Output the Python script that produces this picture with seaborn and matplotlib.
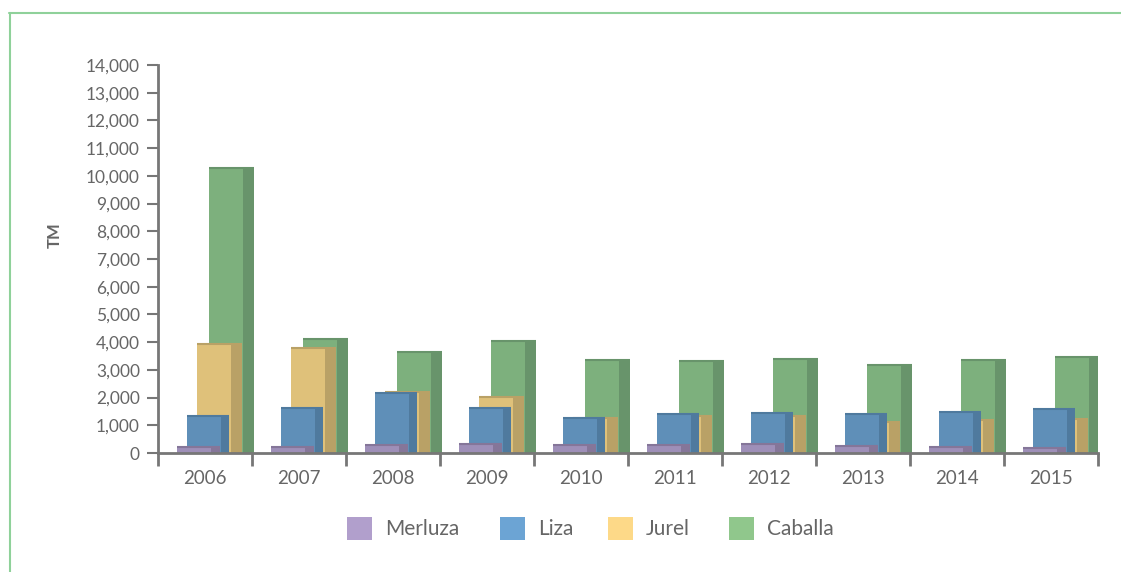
import matplotlib
matplotlib.use("Agg")
import matplotlib.pyplot as plt
from matplotlib.patches import Rectangle
import seaborn as sns
import numpy as np

years = ["2006", "2007", "2008", "2009", "2010", "2011", "2012", "2013", "2014", "2015"]
merluza = [200, 200, 280, 310, 280, 280, 310, 240, 200, 170]
liza = [1330, 1610, 2160, 1610, 1270, 1400, 1430, 1400, 1470, 1580]
jurel = [3925, 3780, 2190, 2010, 1250, 1330, 1330, 1110, 1180, 1220]
caballa = [10280, 4110, 3640, 4030, 3350, 3310, 3380, 3170, 3350, 3460]
series_names = ["Merluza", "Liza", "Jurel", "Caballa"]
yticks = list(range(0, 14001, 1000))

sns.set_theme(style="white")
plt.rcParams['font.family'] = ['Lato', 'DejaVu Sans']

W, H = 1121, 572
fig = plt.figure(figsize=(W / 100, H / 100), dpi=100)
x0, x1, y0, y1 = 158, 1098, 453, 65
ax = fig.add_axes([x0 / W, 1 - y0 / H, (x1 - x0) / W, (y0 - y1) / H])

values = {"Merluza": merluza, "Liza": liza, "Jurel": jurel, "Caballa": caballa}
front_col = {"Merluza": "#9e8fb8", "Liza": "#5f8fb8", "Jurel": "#dfc17a", "Caballa": "#7db07d"}
side_col = {"Merluza": "#857699", "Liza": "#4f7a9e", "Jurel": "#b9a166", "Caballa": "#68946b"}
legend_col = {"Merluza": "#b19fcc", "Liza": "#6ca4d4", "Jurel": "#fdd988", "Caballa": "#90c78c"}
left_off = {"Merluza": 0.202, "Liza": 0.309, "Jurel": 0.415, "Caballa": 0.543}
side_w = {"Merluza": 0.096, "Liza": 0.085, "Jurel": 0.117, "Caballa": 0.117}
front_w = 0.362

idx = np.arange(len(years))
for k, name in enumerate(["Caballa", "Jurel", "Liza", "Merluza"]):
    z = 2 + k
    v = np.array(values[name])
    lefts = idx - 0.5 + left_off[name]
    ax.bar(lefts, v, width=front_w, align="edge", color=front_col[name], linewidth=0, zorder=z)
    ax.bar(lefts + front_w, v, width=side_w[name], align="edge", color=side_col[name],
           linewidth=0, zorder=z)
    for l, val in zip(lefts, v):
        ax.plot([l, l + front_w + side_w[name]], [val, val], color=side_col[name], lw=1.5,
                solid_capstyle="butt", zorder=z + 0.5)

ax.set_xlim(-0.5, len(years) - 0.5)
ax.set_ylim(0, 14000)
ax.set_yticks(yticks)
ax.set_yticklabels([f"{t:,}" for t in yticks])
ax.set_xticks(idx)
ax.set_xticklabels(years)
ax.set_xticks(np.arange(-0.5, len(years)), minor=True)
ax.tick_params(axis="y", length=8, width=1.5, color="#777777", labelcolor="#666666",
               labelsize=12.5, pad=5, left=True, direction="out")
ax.tick_params(axis="x", which="major", length=0, labelcolor="#666666", labelsize=13.5, pad=12)
ax.tick_params(axis="x", which="minor", length=9, width=2, color="#777777", bottom=True,
               direction="out")
ax.grid(False)
sns.despine(ax=ax)
for s in ["left", "bottom"]:
    ax.spines[s].set_color("#777777")
    ax.spines[s].set_linewidth(2)
    ax.spines[s].set_zorder(10)

fig.text(55 / W, 1 - 235 / H, "TM", rotation=90, ha="center", va="center",
         fontsize=12, fontweight="bold", color="#666666")

# legend
sq_x = [347, 500, 608, 729]
for name, sx in zip(series_names, sq_x):
    fig.add_artist(Rectangle((sx / W, 1 - 540 / H), 25 / W, 23 / H, transform=fig.transFigure,
                             facecolor=legend_col[name], edgecolor="none"))
    fig.text((sx + 38) / W, 1 - 529 / H, name, ha="left", va="center", fontsize=15,
             color="#666666")

# frame
fig.add_artist(plt.Line2D([10 / W, 10 / W], [0, 1 - 13 / H], transform=fig.transFigure,
                          color="#8fd19a", lw=1.5))
fig.add_artist(plt.Line2D([9 / W, 1], [1 - 13 / H, 1 - 13 / H], transform=fig.transFigure,
                          color="#8fd19a", lw=1.5))

fig.savefig("out.png", dpi=100)
